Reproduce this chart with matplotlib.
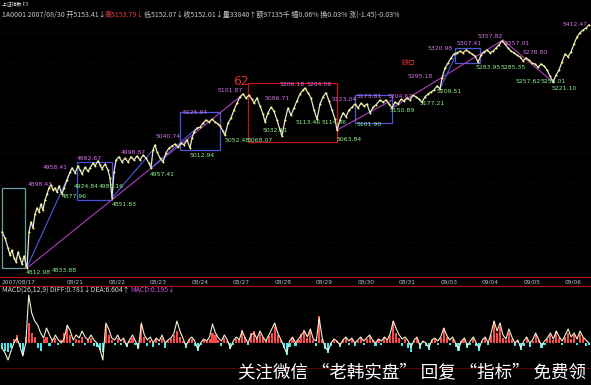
import matplotlib

matplotlib.use("Agg")
import matplotlib.pyplot as plt
import numpy as np
from matplotlib.patches import Rectangle

CJK = ["Noto Sans CJK SC", "DejaVu Sans"]
W, H = 591, 385

# intraday index trace (bar number, index level)
price_bar = [
    2, 5, 8, 10, 12, 14, 16, 18, 20, 22, 24, 27,
    29, 31, 33, 35, 37, 39, 41, 43, 45, 47, 49, 51, 53, 55, 57, 59, 62, 64, 67, 70,
    72, 75, 78, 80, 82, 85, 88, 90, 93, 95, 98, 100, 102, 105, 108, 110, 112,
    114, 116, 119, 122, 125, 128, 131, 134, 137, 140, 143, 146, 149, 151, 153, 155,
    157, 160, 163, 166, 169, 172, 175, 178, 181, 184, 187, 190, 192, 194, 197, 200,
    203, 206, 209, 212, 215, 218, 220, 223, 225,
    228, 231, 234, 237, 240, 243, 246, 249, 252, 254, 257, 260, 263, 265, 268, 271,
    274, 277, 280, 282, 285, 288, 291, 294, 297, 300, 303, 305, 308, 311, 314, 317,
    320, 323, 326, 329, 332, 335, 337, 340, 343, 346, 349, 352, 355, 358, 361, 364,
    367, 370, 373, 376,
    380, 383, 386, 389, 392, 395, 398, 401, 404, 407, 410, 413, 416, 419, 422, 425,
    428, 431, 434, 437, 440, 442, 445, 448, 451, 454, 457, 460, 463, 466, 469, 472,
    475, 478, 481, 484, 487, 490, 493, 496, 499, 502, 505, 508, 511, 514, 517, 520,
    523, 526, 529, 532, 535, 538, 541, 544, 547, 550, 553, 556, 559, 562, 565, 568,
    571, 574, 577, 580, 583, 586, 589,
]
price = [
    4900, 4885, 4860, 4842, 4855, 4835, 4825, 4850, 4835, 4820, 4840, 4810,
    4900, 4925, 4910, 4945, 4960, 4950, 4970, 4955, 4980, 4995, 5010, 5018, 5005, 5010,
    5000, 5015, 4995, 5010, 5030, 5050, 5060, 5048, 5065, 5055, 5045, 5062, 5052, 5060,
    5072, 5065, 5078, 5068, 5058, 5070, 5055, 5035, 4985,
    5050, 5080, 5088, 5075, 5085, 5075, 5088, 5080, 5090, 5080, 5092, 5085, 5072, 5060,
    5105, 5118, 5100, 5085, 5075, 5098, 5110, 5115, 5120, 5112, 5122, 5118, 5130, 5110,
    5135, 5150, 5160, 5162, 5172, 5180, 5175, 5182, 5175, 5170, 5165, 5152, 5142,
    5172, 5185, 5205, 5222, 5238, 5245, 5235, 5242, 5232, 5222, 5235, 5215, 5195, 5175,
    5198, 5212, 5202, 5180, 5155, 5140, 5180, 5210, 5192, 5210, 5228, 5245, 5255, 5260,
    5248, 5235, 5205, 5182, 5220, 5238, 5248, 5228, 5205, 5182, 5155, 5180, 5198, 5188,
    5205, 5212, 5220, 5210, 5222, 5215, 5220, 5198, 5212, 5218,
    5230, 5225, 5230, 5220, 5210, 5225, 5220, 5232, 5228, 5235, 5230, 5242, 5238, 5232,
    5225, 5238, 5245, 5250, 5255, 5265, 5258, 5285, 5310, 5322, 5335, 5345, 5348, 5352,
    5348, 5355, 5350, 5345, 5340, 5325, 5342, 5350, 5355, 5348, 5352, 5360, 5368, 5378,
    5370, 5360, 5352, 5348, 5342, 5338, 5328, 5335, 5330, 5322, 5320, 5312, 5320, 5315,
    5305, 5290, 5275, 5292, 5305, 5325, 5345, 5338, 5350, 5370, 5388, 5398, 5405, 5410,
    5418,
]

day_labels = ["2007/08/17", "08/21", "08/22", "08/23", "08/24", "08/27", "08/28",
              "08/29", "08/30", "08/31", "09/03", "09/04", "09/05", "09/06"]
day_bar = [2, 67, 108.5, 150, 191.5, 233, 274.5, 316, 357.5, 399, 440.5, 482, 523.5, 565]

# wave boxes: (bar start, bar end, low, high, colour)
boxes = [
    (2, 25, 4810, 5010, "#6e9c9c"),
    (77, 112, 4980, 5075, "#4452d8"),
    (180, 220, 5105, 5200, "#4a5ae0"),
    (248, 337, 5125, 5272, "#c41818"),
    (355, 392, 5172, 5242, "#4a5ae0"),
    (455, 480, 5322, 5360, "#4a5ae0"),
]

# trend lines: (bar0, level0, bar1, level1, colour)
trends = [
    (27, 4810, 240, 5238, "#b040c0"),
    (27, 4812, 72, 5060, "#4a5ae0"),
    (112, 4985, 153, 5105, "#4a5ae0"),
    (151, 5060, 197, 5160, "#4a5ae0"),
    (337, 5155, 392, 5230, "#b040c0"),
    (392, 5210, 503, 5380, "#b040c0"),
    (503, 5380, 553, 5275, "#b040c0"),
    (440, 5258, 457, 5348, "#4a5ae0"),
]

high_marks = [
    ("4898.43", 28, 5018), ("4958.41", 43, 5062), ("4982.67", 77, 5085),
    ("4998.87", 121, 5098), ("5040.74", 156, 5138), ("5125.94", 183, 5198),
    ("5101.87", 218, 5255), ("5206.18", 280, 5270), ("5204.59", 307, 5268),
    ("5086.71", 265, 5235), ("5123.04", 332, 5232), ("5173.81", 357, 5238),
    ("5204.67", 388, 5238), ("5295.18", 408, 5288), ("5320.98", 428, 5358),
    ("5307.41", 457, 5372), ("5357.82", 478, 5390), ("5357.01", 505, 5372),
    ("5278.80", 523, 5350), ("5412.47", 563, 5418),
]
low_marks = [
    ("4812.98", 26, 4800), ("4833.88", 52, 4803), ("4877.96", 62, 4988),
    ("4924.84", 74, 5015), ("4980.16", 99, 5015), ("4851.83", 112, 4970),
    ("4957.41", 150, 5045), ("5012.94", 190, 5092), ("5052.48", 225, 5130),
    ("5032.11", 263, 5155), ("5068.07", 248, 5130), ("5113.46", 296, 5175),
    ("5114.86", 322, 5175), ("5063.84", 337, 5132), ("5101.90", 357, 5168),
    ("5150.89", 390, 5205), ("5177.21", 420, 5222), ("5209.51", 437, 5252),
    ("5283.95", 476, 5312), ("5285.35", 501, 5312), ("5257.62", 516, 5277),
    ("5258.01", 541, 5277), ("5221.10", 552, 5258),
]

# MACD(26,12,9) – DIFF line and histogram, one value per bar step
macd_dif = [
    -5, -10, -17, -8, 0, 5, -3, -13, 0, 48,
    30, 22, 18, 10, 5, 15, 8, 2, 8, 3,
    0, 5, 18, 12, 3, 8, 5, 12, 6, 3,
    8, 3, 0, -6, -17, 20, 14, 5, 3, 8,
    2, 5, -3, 3, 8, 2, -5, 20, 8, 3,
    6, 0, 5, 2, 8, 0, 3, 5, 10, 22,
    12, 5, -3, 3, 6, 2, -6, 0, 4, 2,
    6, 19, 10, 5, 2, 8, 3, -5, 2, 6,
    3, 12, 5, 0, 8, 10, 4, 12, 6, 2,
    8, 14, 20, 10, 4, -3, -10, 2, 6, 0,
    4, 8, 12, 6, 14, 4, 2, 25, 5, -4,
    -8, 0, 4, 2, -2, 3, 6, 2, 5, 0,
    3, 6, 2, 5, 8, 3, 0, 4, 2, 6,
    3, 10, 22, 14, 8, 4, 6, 2, -4, 3,
    6, -3, 2, 0, -5, 3, 5, 2, 6, 15,
    8, 3, 6, 0, -6, 2, 5, -3, 2, 6,
    0, -5, 3, 6, 0, 10, 22, 12, 20, 8,
    4, 14, 6, 0, 3, -5, 2, 6, 0, 3,
    10, 4, -3, 2, 5, 10, 4, 12, 6, 2,
    8, 14, 6, 10, 4, 12, 6, 3, 0,
]
macd_hist = [
    -6, -8, -9, -5, 4, 8, -4, -12, 6, 20,
    10, 6, -5, -8, 4, 6, -3, 2, 5, -2,
    3, 10, 17, 8, -3, 4, 3, 6, -2, 3,
    5, -3, -4, -7, -9, 17, 8, 3, -2, 5,
    -2, 3, -4, 2, 5, -2, -6, 18, 6, -3,
    3, -4, 4, -2, 5, -5, 2, 4, 8, 12,
    6, 2, -5, 3, 4, -3, -8, -2, 3, 2,
    4, 10, 8, 3, -3, 5, 2, -6, -2, 4,
    3, 13, 6, -2, 10, 12, 5, 9, 6, 3,
    7, 10, 17, 8, 3, -5, -12, -4, 5, -3,
    3, 9, 13, 5, 12, 3, -3, 27, 4, -6,
    -10, -3, 3, 2, -4, 3, 5, -2, 4, -3,
    2, 5, -2, 4, 7, 3, -3, 4, -2, 5,
    3, 8, 22, 10, 5, -3, 4, -5, -9, 2,
    5, -6, 2, -3, -7, 3, 4, -2, 5, 15,
    6, -2, 4, -4, -8, 2, 4, -5, -2, 5,
    -3, -8, 2, 5, -2, 8, 22, 10, 16, 5,
    3, 10, 4, -3, 2, -7, -3, 5, -4, 2,
    9, 3, -5, -2, 4, 8, 3, 12, 5, -2,
    6, 10, 4, 8, -2, 9, 5, -3, -2,
]

header_parts = [
    ("1A0001 2007/08/30 开5153.41↓", "#c8c8c8"),
    ("高5153.79↓", "#e04040"),
    ("低5152.07↓收5152.01↓量33840↑额97135千 幅0.06% 换0.03% 涨(-1.45)-0.03%", "#c8c8c8"),
]
macd_parts = [
    ("MACD(26,12,9) DIFF:0.781↓DEA:6.604↑", "#d8d8d8"),
    ("MACD:0.195↓", "#d050e0"),
]

fig = plt.figure(figsize=(W / 100, H / 100), dpi=100, facecolor="black")
renderer = fig.canvas.get_renderer()


def axes_px(top, bottom):
    ax = fig.add_axes([0, 1 - bottom / H, 1, (bottom - top) / H])
    ax.set_facecolor("black")
    ax.set_axis_off()
    return ax


def text_row(x0, x1, y, parts, size=6):
    # lay the parts side by side at one size so that the row spans x0..x1
    items = [fig.text(0, 1 - y / H, s, color=c, fontsize=size, va="center",
                      ha="left", family=CJK) for s, c in parts]
    widths = [t.get_window_extent(renderer).width for t in items]
    scale = (x1 - x0) / sum(widths)
    x = x0
    for t, w in zip(items, widths):
        t.set_fontsize(size * scale)
        t.set_x(x / W)
        x += w * scale


# main price panel
ax = axes_px(12, 276)
ax.set_xlim(0, W)
ax.set_ylim(4790, 5450)
for lvl in [5400, 5325, 5250, 5175, 5100, 5025, 4950, 4875]:
    ax.axhline(lvl, color="#3a0606", lw=0.6, ls=(0, (1, 2)))
for x0, x1, lo, hi, c in boxes:
    ax.add_patch(Rectangle((x0, lo), x1 - x0, hi - lo, fill=False, ec=c, lw=0.9))
for b0, p0, b1, p1, c in trends:
    ax.plot([b0, b1], [p0, p1], color=c, lw=0.8)
ax.plot(price_bar, price, color="#e6e6d2", lw=0.9)
ax.plot(price_bar, price, ls="none", marker="o", ms=1.4, color="#ffff70", mew=0)
for s, b, p in high_marks:
    ax.text(b, p, s, color="#d872ee", fontsize=4.4, va="center", ha="left")
for s, b, p in low_marks:
    ax.text(b, p, s, color="#8cf08c", fontsize=4.4, va="center", ha="left")
ax.text(233, 5277, "62", color="#e03030", fontsize=9, va="center", ha="left")
ax.text(402, 5325, "缺口", color="#e03030", fontsize=5, va="center", ha="left",
        family=CJK)

# date strip
axd = axes_px(276, 287)
axd.set_xlim(0, W)
axd.set_ylim(0, 1)
axd.axhline(0.9, color="#a01414", lw=0.9)
axd.axhline(0.1, color="#a01414", lw=0.9)
for s, b in zip(day_labels, day_bar):
    axd.text(b, 0.5, s, color="#b4c4d4", fontsize=4.2, va="center", ha="left")

# MACD panel
n = min(len(macd_dif), len(macd_hist))
idx = np.arange(n)
axm = axes_px(294, H)
axm.set_xlim(-0.7, n - 0.3)
axm.set_ylim(-42, 49)
axm.axhline(-25, color="#5a0808", lw=0.7)
hist = np.array(macd_hist[:n])
axm.bar(idx, hist, width=0.7, color=np.where(hist >= 0, "#ff4848", "#46eaea"))
axm.plot(idx, macd_dif[:n], color="#f2f0d2", lw=0.8)

# header texts
text_row(2, 28, 4, [("上证指数 F3", "#e8e8e8")])
text_row(2, 400, 15, header_parts)
text_row(2, 175, 290, macd_parts)
text_row(238, 585, 372, [("关注微信 “老韩实盘” 回复 “指标” 免费领", "white")], size=11)

fig.savefig("out.png", dpi=100, facecolor="black")
